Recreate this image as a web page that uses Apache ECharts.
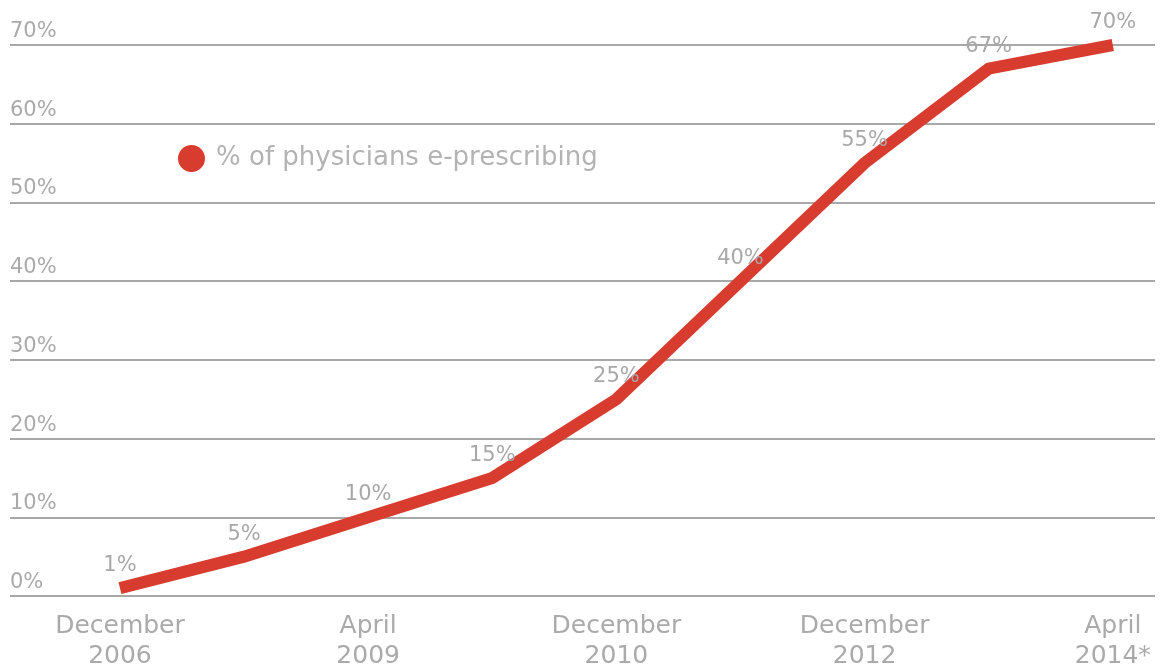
<!DOCTYPE html>
<html>
<head>
<meta charset="utf-8">
<script src="https://cdn.jsdelivr.net/npm/echarts@6/dist/echarts.min.js"></script>
<style>html,body{margin:0;padding:0;background:#fff;}#c{width:1160px;height:667px;}</style>
</head>
<body>
<div id="c"></div>
<script>
const categories = ['December\n2006', '', 'April\n2009', '', 'December\n2010', '', 'December\n2012', '', 'April\n2014*'];
const values = [1, 5, 10, 15, 25, 40, 55, 67, 70];
const labeledIndices = [0, 2, 4, 6, 8];
const yTicks = [0, 10, 20, 30, 40, 50, 60, 70];
const seriesName = '% of physicians e-prescribing';

const FONT = 'DejaVu Sans';
const chart = echarts.init(document.getElementById('c'));
chart.setOption({
  animation: false,
  backgroundColor: '#fff',
  legend: {
    left: 173, top: 140,
    icon: 'circle', itemWidth: 27, itemHeight: 27, itemGap: 10,
    textStyle: { fontFamily: FONT, fontSize: 26, color: '#b3b3b3', padding: [0, 0, 0, 6] },
    data: [seriesName]
  },
  grid: { left: 10, right: 5, top: 45, bottom: 71, containLabel: false, outerBoundsMode: 'none' },
  xAxis: {
    type: 'value', min: -0.886, max: 8.34,
    axisLine: { show: false }, axisTick: { show: false }, splitLine: { show: false },
    axisLabel: {
      customValues: labeledIndices,
      formatter: v => categories[Math.round(v)] || '',
      fontFamily: FONT, fontSize: 25, color: '#aaaaaa', lineHeight: 30, margin: 15
    }
  },
  yAxis: {
    type: 'value', min: 0, max: 70, interval: 10,
    axisLine: { show: false }, axisTick: { show: false },
    splitLine: { lineStyle: { color: '#a8a8a8', width: 2 } },
    axisLabel: {
      inside: true, margin: 0,
      customValues: yTicks,
      formatter: v => v + '%',
      fontFamily: FONT, fontSize: 21, color: '#aaaaaa',
      verticalAlign: 'bottom', padding: [0, 0, 3, 0]
    }
  },
  series: [{
    name: seriesName, type: 'line',
    data: values.map((v, i) => [i, v]),
    symbol: 'circle', symbolSize: 0.1, showSymbol: true,
    color: '#d83c2f',
    itemStyle: { color: '#d83c2f' },
    lineStyle: { width: 12, color: '#d83c2f', cap: 'butt', join: 'miter' },
    label: {
      show: true, position: 'top', distance: 12,
      formatter: p => p.value[1] + '%',
      fontFamily: FONT, fontSize: 21, color: '#a8a8a8'
    }
  }]
});
</script>
</body>
</html>
